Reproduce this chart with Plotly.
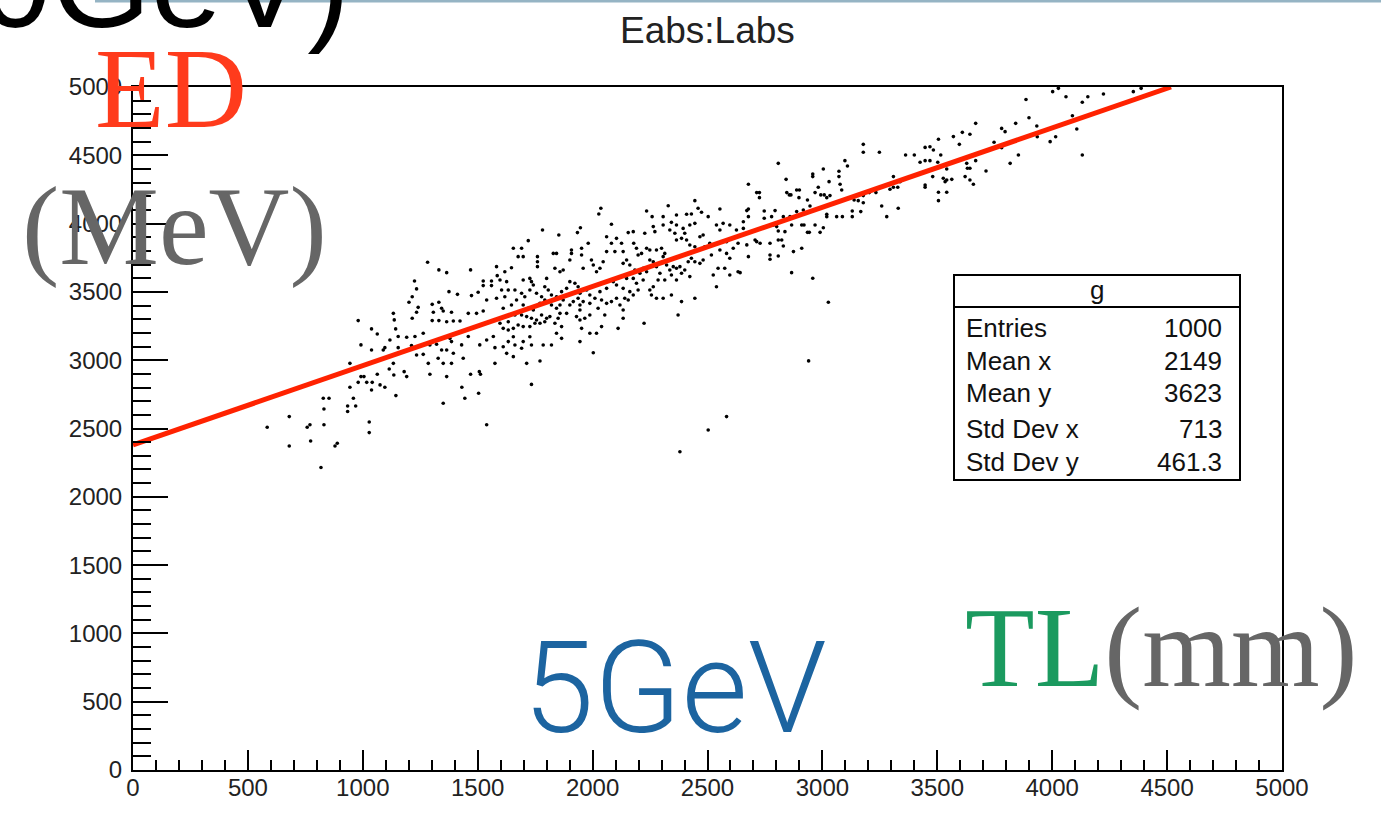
import plotly.graph_objects as go

# ---------------- data ----------------
# scatter points (TL in mm, ED in MeV), grouped by region of the plot
points_low = [
    (1282,3717),(1331,3661),(1365,3641),(1469,3661),(1582,3685),(1585,3619),(1524,3580),(1560,3580),
    (1524,3546),(1560,3546),(1225,3580),(1234,3522),(1375,3502),(1412,3482),(1215,3465),(1201,3424),
    (1302,3409),(1331,3424),(1241,3387),(1343,3380),(1307,3351),(1350,3360),(1386,3351),(1234,3351),
    (1215,3307),(1133,3343),(1137,3295),(980,3290),(1302,3290),(1331,3290),(1365,3282),(1394,3287),
    (1423,3287),(1459,3343),(1495,3343),(1524,3360),(1473,3473),(1502,3497),(1539,3441),(1582,3453),
    (1379,3160),(1386,3136),(1263,3197),(1227,3173),(1154,3173),(1191,3168),(1118,3148),(1038,3229),
    (1063,3192),(1143,3229),(992,3112),(1038,3075),(1089,3075),(1096,3092),(1154,3092),(1212,3107),
    (1234,3038),(1263,3043),(1292,3112),(1321,3117),(1343,3075),(1365,3075),(1394,3051),(1430,3112),
    (1459,3173),(1509,3112),(1539,3148),(1568,3173),(1575,3092),(1437,3014),(1328,3014),(1350,2977),
    (1386,2977),(1285,2977),(1133,2977),(1115,2936),(1180,2916),(1191,2880),(1135,2892),(1063,2897),
    (1005,2880),(944,2977),(1292,2897),(1365,2880),(1469,2897),(1507,2916),(1512,2897),(1575,2977),
    (1431,2802),(1444,2721),(1504,2758),(1350,2685),(1539,2528),(1144,2741),(1096,2802),(1075,2819),
    (1038,2782),(1041,2838),(1017,2838),(980,2838),(992,2880),(944,2802),(959,2721),(934,2665),
    (934,2624),(969,2665),(853,2721),(828,2721),(831,2643),(831,2528),(770,2528),(758,2509),
    (680,2587),(584,2509),(1028,2548),(1028,2470),(773,2409),(680,2372),(879,2372),(889,2392),
    (818,2214),
]
points_mid = [
    (2036,4112),(2027,4070),(2235,4092),(2329,4131),(2445,4168),(2459,4112),(2474,4083),(2503,4051),
    (2554,4107),(2259,4051),(2307,4051),(2365,4063),(2409,4068),(2430,4070),(2445,4002),(2423,3990),
    (2394,3965),(2365,3990),(2343,4009),(2307,3990),(2082,3995),(1947,3970),(1934,3934),(1782,3953),
    (1853,3917),(1720,3875),(1655,3819),(1691,3819),(1908,3807),(1908,3782),(1829,3782),(1843,3782),
    (1676,3758),(1698,3758),(1760,3758),(1760,3721),(1760,3685),(1618,3648),(1647,3677),(1597,3587),
    (1626,3575),(1698,3587),(1727,3599),(1734,3575),(1742,3551),(1800,3599),(1836,3673),(1858,3648),
    (1872,3660),(1901,3734),(1952,3819),(1952,3770),(1981,3856),(1959,3673),(1995,3734),(2003,3697),
    (2017,3648),(2032,3673),(2046,3721),(2061,3795),(2061,3904),(2082,3856),(2097,3795),(2104,3892),
    (2126,3856),(2133,3795),(2148,3734),(2155,3934),(2177,3941),(2179,3856),(2191,3819),(2198,3770),
    (2213,3782),(2227,3929),(2235,3819),(2249,3807),(2264,3978),(2271,3941),(2278,3807),(2300,3819),
    (2307,3758),(2314,3782),(2336,3953),(2358,3929),(2365,3880),(2387,3892),(2401,3929),(2409,3880),
    (2423,3843),(2445,3831),(2467,3904),(2481,3917),(2488,3831),(2510,3856),(2517,3770),(2539,3990),
    (2554,3953),(2568,4002),(2583,3868),(2597,3990),(2626,3953),(2633,3856),(2612,3819),(2583,3782),
    (2597,3746),(2554,3807),(2575,3673),(2546,3673),(2525,3624),(2597,3624),(2633,3648),(2133,3709),
    (2162,3697),(2184,3660),(2206,3636),(2220,3673),(2235,3648),(2249,3734),(2264,3721),(2278,3685),
    (2293,3636),(2322,3697),(2336,3660),(2351,3685),(2365,3673),(2380,3685),(2387,3636),(2401,3660),
    (2416,3721),(2430,3746),(2445,3721),(2467,3709),(2481,3734),(2423,3612),(2365,3587),(2343,3624),
    (2314,3587),(2285,3587),(2264,3538),(2249,3514),(2256,3477),(2278,3453),(2307,3453),(2343,3477),
    (2387,3429),(2445,3453),(2539,3538),(2220,3587),(2191,3563),(2177,3599),(2148,3599),(2133,3526),
    (2104,3551),(2090,3575),(2061,3526),(2032,3502),(2010,3453),(1988,3477),(1974,3514),(1945,3490),
    (1937,3538),(1923,3563),(1901,3575),(1887,3526),(1865,3502),(1843,3465),(1821,3477),(1807,3514),
    (1792,3538),(1778,3465),(1756,3490),(1727,3514),(1705,3465),(1691,3490),(1662,3514),(1633,3514),
    (1618,3465),(1604,3514),(1611,3380),(1647,3404),(1669,3441),(1698,3404),(1720,3380),(1742,3368),
    (1771,3416),(1792,3441),(1821,3404),(1843,3380),(1858,3404),(1872,3441),(1901,3404),(1916,3429),
    (1937,3453),(1945,3404),(1945,3368),(1959,3429),(1988,3416),(2024,3380),(2039,3441),(2061,3416),
    (2082,3429),(2104,3453),(2119,3404),(2133,3368),(2140,3453),(2155,3441),(2162,3502),(2177,3477),
    (2198,3514),(2053,3331),(1988,3331),(1966,3307),(1945,3294),(1930,3319),(1887,3343),(1858,3343),
    (1850,3307),(1814,3319),(1800,3307),(1778,3331),(1756,3294),(1734,3307),(1713,3319),(1691,3331),
    (1662,3331),(1633,3282),(1597,3270),(1611,3233),(1633,3221),(1655,3233),(1676,3258),(1698,3246),
    (1727,3246),(1749,3270),(1771,3270),(1792,3282),(1836,3270),(1865,3246),(1952,3233),(1988,3197),
    (2017,3197),(2039,3246),(2111,3233),(2133,3307),(2224,3270),(2372,3331),(1611,3099),(1633,3136),
    (1655,3172),(1662,3111),(1691,3087),(1698,3136),(1727,3172),(1734,3111),(1785,3111),(1821,3111),
    (1843,3197),(1865,3160),(1945,3136),(2003,3055),(1626,3050),(1655,3026),(1713,2977),(1771,2994),
    (1734,2823),(2583,2587),(2503,2489),(2380,2330),
]
points_high = [
    (3667,4734),(3609,4668),(3570,4637),(3642,4654),(3505,4617),(3596,4580),(3468,4563),(3447,4558),
    (3483,4539),(3178,4580),(3178,4522),(3248,4522),(3362,4502),(3400,4502),(3425,4449),(3447,4461),
    (3468,4461),(3515,4502),(3502,4449),(3541,4400),(3628,4441),(3631,4405),(3642,4405),(3667,4461),
    (3480,4344),(3447,4283),(3447,4266),(3526,4332),(3541,4319),(3563,4324),(3534,4307),(3621,4344),
    (3642,4319),(3657,4288),(3505,4229),(3541,4229),(3505,4168),(2808,4441),(3098,4461),(3109,4422),
    (3004,4400),(2958,4363),(2958,4344),(3072,4383),(3072,4344),(3029,4307),(3077,4288),(2842,4324),
    (2678,4288),(2714,4227),(2726,4227),(2726,4190),(2845,4227),(2863,4210),(2856,4210),(2888,4246),
    (2900,4246),(2898,4190),(2935,4173),(2982,4266),(2968,4227),(2993,4210),(3008,4210),(3019,4190),
    (3033,4205),(3084,4246),(3138,4173),(3156,4168),(3178,4153),(3204,4227),(3233,4227),(3178,4205),
    (3309,4344),(3294,4251),(3309,4266),(3328,4266),(3338,4307),(3258,4129),(3330,4112),(3280,4051),
    (3130,4092),(3130,4051),(3167,4088),(3062,4051),(3087,4051),(3019,4068),(3019,4051),(2946,4129),
    (2917,4100),(2888,4088),(2859,4051),(2830,4051),(2794,4095),(2747,4092),(2678,4107),(2671,4095),
    (2656,4014),(2678,4051),(2747,4039),(2779,4051),(2787,3990),(2801,3978),(2808,3946),(2837,3941),
    (2866,3990),(2910,3990),(2920,3990),(2935,3936),(2943,3936),(2968,3990),(2990,3936),(3004,3970),
    (2656,3965),(2671,3844),(2707,3880),(2714,3868),(2729,3856),(2772,3856),(2808,3880),(2823,3880),
    (2830,3836),(2874,3795),(2910,3819),(2808,3763),(2772,3770),(2772,3739),(2678,3758),(2642,3641),
    (2866,3641),(2958,3600),(3026,3424),(2940,2995),
]
points_top = [
    (4027,4990),(4002,4966),(4060,4929),(4155,4929),(4131,4888),(4223,4949),(4353,4966),(4387,4990),
    (3886,4909),(3899,4775),(3841,4734),(3780,4697),(3795,4673),(3933,4714),(3935,4636),(3828,4600),
    (3780,4556),(3747,4595),(3991,4600),(4015,4636),(4088,4790),(4107,4692),(4131,4502),(3853,4502),
    (3817,4441),(3712,4385),
]

# straight-line fit drawn in red
fit_x = [0, 4517]
fit_y = [2380, 5000]

# statistics box
stats_title = "g"
stat_names = ["Entries", "Mean x", "Mean y", "Std Dev x", "Std Dev y"]
stat_values = ["1000", "2149", "3623", "713", "461.3"]

plot_title = "Eabs:Labs"

# ---------------- figure ----------------
all_pts = points_low + points_mid + points_high + points_top
xs = [p[0] for p in all_pts]
ys = [p[1] for p in all_pts]

fig = go.Figure()
fig.add_trace(go.Scatter(
    x=xs, y=ys, mode="markers",
    marker=dict(size=3.6, color="black", line=dict(width=0)),
    showlegend=False, hoverinfo="skip",
))
fig.add_trace(go.Scatter(
    x=fit_x, y=fit_y, mode="lines",
    line=dict(color="#ff2200", width=5),
    showlegend=False, hoverinfo="skip",
))

L, R, T, B = 133, 99, 87, 51
W, H = 1381, 821
PW, PH = W - L - R, H - T - B


def px(xp):
    return (xp - L) / PW


def py(yp):
    return (H - B - yp) / PH


tick_font = dict(family="Liberation Sans, Arial, sans-serif", size=24, color="#222")
axis_common = dict(
    showgrid=False, zeroline=False, showline=True, linecolor="black", linewidth=2,
    mirror=True, ticks="inside", tickcolor="black", tickwidth=2,
    tickfont=tick_font, dtick=500, tick0=0,
)
fig.update_xaxes(
    range=[0, 5000], ticklen=20,
    minor=dict(ticks="inside", ticklen=10, dtick=100, tickcolor="black", tickwidth=2),
    ticklabelstandoff=-5,
    **axis_common,
)
fig.update_yaxes(
    range=[0, 5000], ticklen=35,
    minor=dict(ticks="inside", ticklen=18, dtick=100, tickcolor="black", tickwidth=2),
    ticklabelstandoff=4,
    **axis_common,
)

shapes = []
# light blue slide border line at the very top
shapes.append(dict(type="line", xref="paper", yref="paper",
                   x0=px(95), x1=px(1381), y0=py(1), y1=py(1),
                   line=dict(color="#95b4c4", width=3)))
# stats box
bx0, bx1, by0, by1 = 954, 1240, 275, 480
shapes.append(dict(type="rect", xref="paper", yref="paper",
                   x0=px(bx0), x1=px(bx1), y0=py(by1), y1=py(by0),
                   line=dict(color="black", width=2), fillcolor="white", layer="above"))
shapes.append(dict(type="line", xref="paper", yref="paper",
                   x0=px(bx0), x1=px(bx1), y0=py(307), y1=py(307),
                   line=dict(color="black", width=2), layer="above"))

annotations = []
stat_font = dict(family="Liberation Sans, Arial, sans-serif", size=26, color="#111")
annotations.append(dict(text=stats_title, xref="paper", yref="paper", x=px(1097), y=py(290),
                        xanchor="center", yanchor="middle", showarrow=False, font=stat_font))
row_y = [328, 361, 393, 429, 462]
for name, val, yy in zip(stat_names, stat_values, row_y):
    annotations.append(dict(text=name, xref="paper", yref="paper", x=px(964), y=py(yy),
                            xanchor="left", yanchor="middle", showarrow=False, font=stat_font))
    annotations.append(dict(text=val, xref="paper", yref="paper", x=px(1224), y=py(yy),
                            xanchor="right", yanchor="middle", showarrow=False, font=stat_font))

# title
annotations.append(dict(text=plot_title, xref="paper", yref="paper", x=px(707), y=py(30),
                        xanchor="center", yanchor="middle", showarrow=False,
                        font=dict(family="Liberation Sans, Arial, sans-serif", size=37, color="#222")))

serif = "Liberation Serif, Times New Roman, serif"
annotations.append(dict(text="ED", xref="paper", yref="paper", x=px(171), y=py(89),
                        xanchor="center", yanchor="middle", showarrow=False,
                        font=dict(family=serif, size=114, color="#ff3b1c")))
annotations.append(dict(text="(MeV)", xref="paper", yref="paper", x=px(174), y=py(226),
                        xanchor="center", yanchor="middle", showarrow=False,
                        font=dict(family=serif, size=112, color="#666666")))
annotations.append(dict(text="<span style='color:#1b9a5f'>TL</span><span style='color:#666666'>(mm)</span>",
                        xref="paper", yref="paper", x=px(1161), y=py(647),
                        xanchor="center", yanchor="middle", showarrow=False,
                        font=dict(family=serif, size=114, color="#666666")))
annotations.append(dict(text="5GeV", xref="paper", yref="paper", x=px(675), y=py(688),
                        xanchor="center", yanchor="middle", showarrow=False,
                        font=dict(family="Roboto, Liberation Sans, sans-serif", size=128,
                                  color="#1c64a0", weight=300)))
annotations.append(dict(text="0GeV)", xref="paper", yref="paper", x=px(352), y=py(-18),
                        xanchor="right", yanchor="middle", showarrow=False,
                        font=dict(family="Liberation Sans, Arial, sans-serif", size=128,
                                  color="black")))

fig.update_layout(
    width=W, height=H,
    margin=dict(l=L, r=R, t=T, b=B, pad=0),
    paper_bgcolor="white", plot_bgcolor="white",
    shapes=shapes, annotations=annotations,
    showlegend=False,
)

fig.write_html("out.html", config={"displayModeBar": False},
               post_script="document.body.style.margin='0';document.body.style.overflow='hidden';")
